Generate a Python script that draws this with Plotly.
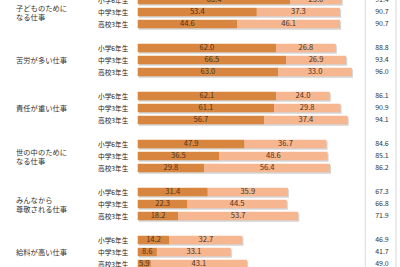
import plotly.graph_objects as go

categories = ["子どものために<br>なる仕事", "苦労が多い仕事", "責任が重い仕事",
              "世の中のために<br>なる仕事", "みんなから<br>尊敬される仕事", "給料が高い仕事"]
grades = ["小学6年生", "中学3年生", "高校3年生"]
# strongly agree (dark), somewhat agree (light), total
dark = [[68.4, 53.4, 44.6], [62.0, 66.5, 63.0], [62.1, 61.1, 56.7],
        [47.9, 36.5, 29.8], [31.4, 22.3, 18.2], [14.2, 8.6, 5.9]]
light = [[23.0, 37.3, 46.1], [26.8, 26.9, 33.0], [24.0, 29.8, 37.4],
         [36.7, 48.6, 56.4], [35.9, 44.5, 53.7], [32.7, 33.1, 43.1]]
totals = [[91.4, 90.7, 90.7], [88.8, 93.4, 96.0], [86.1, 90.9, 94.1],
          [84.6, 85.1, 86.2], [67.3, 66.8, 71.9], [46.9, 41.7, 49.0]]

DARK = "#D8863F"
LIGHT = "#F6B690"
TXT = "#4a3420"
FONT = "Noto Sans CJK JP"

ys, d, l, t = [], [], [], []
for g in range(len(categories)):
    for r in range(3):
        ys.append(4 * g + r)
        d.append(dark[g][r])
        l.append(light[g][r])
        t.append(totals[g][r])

BW = 0.7
fig = go.Figure()
# shadow
fig.add_trace(go.Bar(y=[y + 0.13 for y in ys], x=[a + b for a, b in zip(d, l)], base=0.5,
                     orientation="h", width=BW, marker=dict(color="rgba(0,0,0,0.17)", line_width=0),
                     hoverinfo="skip", showlegend=False))
fig.add_trace(go.Bar(y=ys, x=d, base=0, orientation="h", width=BW,
                     marker=dict(color=DARK, line_width=0), showlegend=False))
fig.add_trace(go.Bar(y=ys, x=l, base=d, orientation="h", width=BW,
                     marker=dict(color=LIGHT, line_width=0), showlegend=False))
# value labels
fig.add_trace(go.Scatter(y=ys, x=[v / 2 for v in d], mode="text",
                         text=[f"{v:.1f}" for v in d],
                         textfont=dict(family=FONT, size=7.6, color=TXT), showlegend=False))
fig.add_trace(go.Scatter(y=ys, x=[a + b / 2 for a, b in zip(d, l)], mode="text",
                         text=[f"{v:.1f}" for v in l],
                         textfont=dict(family=FONT, size=7.6, color=TXT), showlegend=False))
# totals
fig.add_trace(go.Scatter(y=ys, x=[109.5] * len(ys), mode="text",
                         text=[f"{v:.1f}" for v in t],
                         textfont=dict(family=FONT, size=7, color="#333333"), showlegend=False))

annotations = []
for g, c in enumerate(categories):
    annotations.append(dict(x=-55.5, y=4 * g + 1, xref="x", yref="y", text=c, showarrow=False,
                            xanchor="left", yanchor="middle", align="left",
                            font=dict(family=FONT, size=7.3, color="#333333")))
    for r, gr in enumerate(grades):
        annotations.append(dict(x=-2.8, y=4 * g + r, xref="x", yref="y", text=gr, showarrow=False,
                                xanchor="right", yanchor="middle",
                                font=dict(family=FONT, size=6.7, color="#222222")))

shapes = [dict(type="line", xref="x", yref="paper", x0=x, x1=x, y0=0, y1=1,
               line=dict(color="#d9d9d9", width=1)) for x in (102.0, 115.8)]

fig.update_layout(
    width=400, height=267, margin=dict(l=0, r=0, t=0, b=0),
    paper_bgcolor="white", plot_bgcolor="white",
    barmode="overlay", annotations=annotations, shapes=shapes,
    xaxis=dict(range=[-61.75, 117.6], visible=False, fixedrange=True),
    yaxis=dict(range=[22.25, 0.0], visible=False, fixedrange=True),
)
fig.write_html("out.html")
